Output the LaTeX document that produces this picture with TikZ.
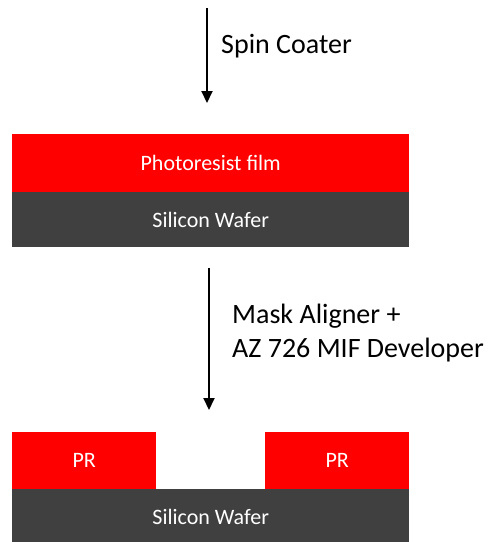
\documentclass[tikz,border=0pt]{standalone}
\usepackage{fontspec}
\setmainfont{Carlito}
\usetikzlibrary{arrows.meta}
\definecolor{prred}{HTML}{FF0000}
\definecolor{wafer}{HTML}{404040}
\tikzset{
  layer/.style={rectangle, inner sep=0pt, anchor=north west, text=white,
    font=\fontsize{22}{26}\selectfont},
  proc/.style={line width=2pt, -{Triangle[length=12pt,width=11pt]}},
  lbl/.style={anchor=base west, inner sep=0pt, font=\fontsize{28}{34}\selectfont}
}
\begin{document}
\begin{tikzpicture}[x=1pt,y=-1pt]
\useasboundingbox (0,0) rectangle (490,542);
% top arrow
\coordinate (a1s) at (207,8);
\coordinate (a1e) at (207,103);
\draw[proc] (a1s) -- (a1e);
\node[lbl] (l1) at (221,53) {Spin Coater};
% first stack
\node[layer, fill=prred, minimum width=397pt, minimum height=58.5pt] (film) at (12,133.5) {Photoresist film};
\node[layer, fill=wafer, minimum width=397pt, minimum height=55pt] (wafer1) at (12,192) {Silicon Wafer};
% second arrow
\coordinate (a2s) at (209,268);
\coordinate (a2e) at (209,410);
\draw[proc] (a2s) -- (a2e);
\node[lbl] (l2a) at (232,323) {Mask Aligner +};
\node[lbl] (l2b) at (232,357.5) {AZ 726 MIF Developer};
% second stack
\node[layer, fill=prred, minimum width=144pt, minimum height=57pt] (prl) at (12,432) {PR};
\node[layer, fill=prred, minimum width=144pt, minimum height=57pt] (prr) at (265,432) {PR};
\node[layer, fill=wafer, minimum width=397pt, minimum height=55pt] (wafer2) at (12,489) {Silicon Wafer};
\end{tikzpicture}
\end{document}
